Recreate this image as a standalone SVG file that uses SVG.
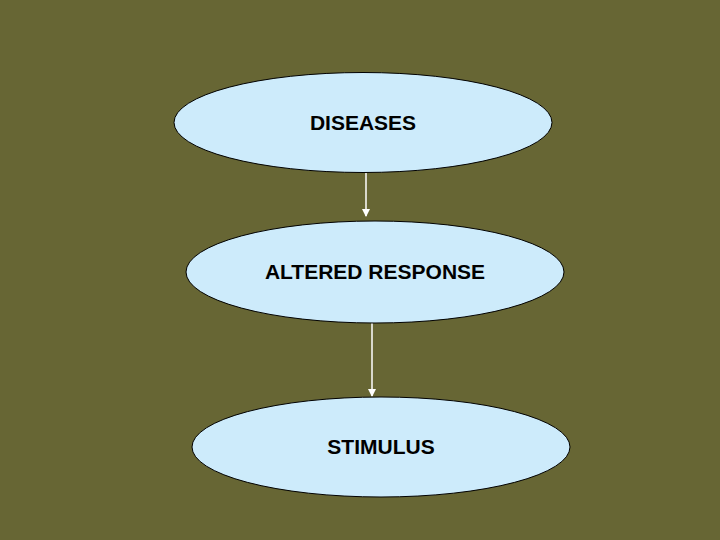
<svg xmlns="http://www.w3.org/2000/svg" width="720" height="540" viewBox="0 0 720 540">
<style>
.n{fill:#cdebfb;stroke:#000;stroke-width:1}
.t{font-family:"Liberation Sans",Arial,sans-serif;font-weight:bold;font-size:21px;fill:#000;text-anchor:middle}
.c{stroke:#fff;stroke-width:1.5;fill:none;marker-end:url(#a)}
</style>
<defs><marker id="a" markerWidth="8" markerHeight="8" refX="7" refY="4" orient="auto" markerUnits="userSpaceOnUse"><path d="M0,0L8,4L0,8z" fill="#fff"/></marker></defs>
<rect width="720" height="540" fill="#676634"/>
<g id="connectors">
<line class="c" x1="366" y1="173" x2="366" y2="216"/>
<line class="c" x1="372" y1="323" x2="372" y2="396"/>
</g>
<g id="diseases"><ellipse class="n" cx="363" cy="122.5" rx="189" ry="50"/><text class="t" x="363" y="130">DISEASES</text></g>
<g id="altered"><ellipse class="n" cx="375" cy="272" rx="189" ry="51"/><text class="t" x="375" y="279">ALTERED RESPONSE</text></g>
<g id="stimulus"><ellipse class="n" cx="381" cy="447" rx="189" ry="50"/><text class="t" x="381" y="454">STIMULUS</text></g>
</svg>
